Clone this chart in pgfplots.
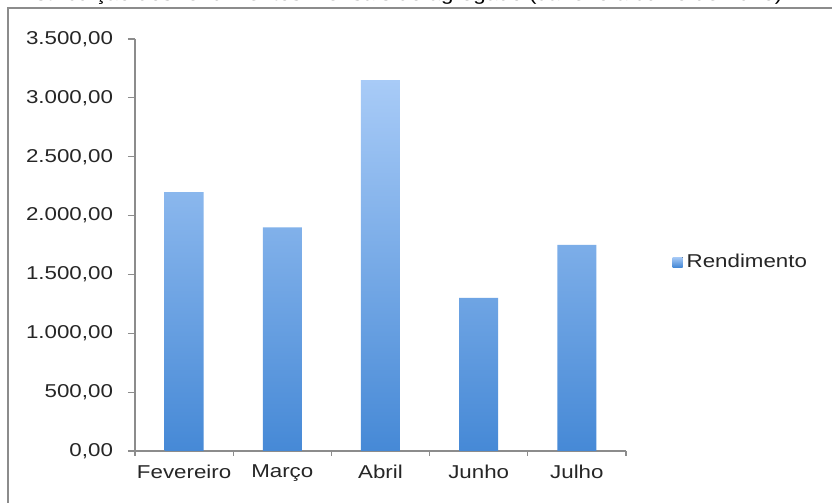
\documentclass[border=0pt]{standalone}
\usepackage{pgfplots}
\pgfplotsset{compat=1.18}
\usepackage{fontspec}
\setmainfont{Liberation Sans}[FakeStretch=1.2]
\definecolor{barTop}{HTML}{A8CBF7}
\definecolor{barBot}{HTML}{4689D6}
\definecolor{axgray}{HTML}{8C8C8C}
\begin{document}
\begin{tikzpicture}[x=1pt,y=1pt]
\clip (0,0) rectangle (416,251.5);
\fill[white] (0,0) rectangle (416,251.5);
\node[anchor=base west, inner sep=0pt, font=\fontsize{9.3}{11}\selectfont] at (7,251.2) {Distribuição dos rendimentos mensais do agregado (Janeiro a Julho de 2013)};
\draw[axgray, line width=0.75pt] (4,-5) -- (4,247.5) -- (425,247.5);
\begin{axis}[
  scale only axis, width=245.5pt, height=206pt,
  at={(67.5pt,26pt)}, anchor=south west,
  xmin=-0.5, xmax=4.5, ymin=0, ymax=3500,
  axis x line*=bottom, axis y line*=left,
  axis line style={axgray, line width=0.8pt},
  xtick={0,1,2,3,4},
  xticklabels={Fevereiro,Março,Abril,Junho,Julho},
  major x tick style={draw=none},
  minor xtick={-0.5,0.5,1.5,2.5,3.5,4.5},
  minor x tick style={axgray, line width=0.6pt},
  tick align=outside, minor tick length=2.5pt, major tick length=3.5pt,
  ytick={0,500,...,3500},
  y tick style={axgray, line width=0.6pt},
  /pgf/number format/assume math mode=true,
  yticklabel style={xshift=-4pt, /pgf/number format/.cd, fixed, fixed zerofill, precision=2, use comma, 1000 sep={.}},
  tick label style={font=\fontsize{9.3}{11}\selectfont, text=black!85},
  legend style={draw=none, fill=none, at={(1.0943,0.4587)}, anchor=west, inner sep=0pt,
    font=\fontsize{9.3}{11}\selectfont, text=black!85},
]
\addplot[ybar, bar width=19.5pt, draw=none, top color=barTop, bottom color=barBot,
  legend image code/.code={\fill[top color=barTop,bottom color=barBot] (-1pt,-2.5pt) rectangle (4pt,2.5pt);}]
  coordinates {(0,2200) (1,1900) (2,3150) (3,1300) (4,1750)};
\addlegendentry{Rendimento}
\end{axis}
\end{tikzpicture}
\end{document}
